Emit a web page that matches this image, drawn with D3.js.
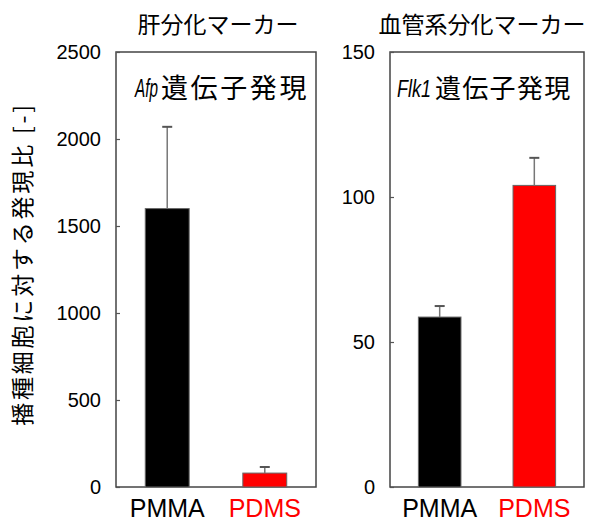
<!DOCTYPE html>
<html>
<head>
<meta charset="utf-8">
<script src="https://cdn.jsdelivr.net/npm/d3@7"></script>
<style>
  body { margin: 0; background: #fff; }
  text { font-family: "Liberation Sans", Arial, "Noto Sans CJK JP", sans-serif; }
  .jp { font-family: "Noto Sans CJK JP", sans-serif; }
</style>
</head>
<body>
<div id="chart"></div>
<script>
// --- data ---
const categories = ["PMMA", "PDMS"];
const barColors = ["#000000", "#ff0000"];

const liverMeans = [1600, 80];
const liverErrors = [470, 35];
const liverTicks = [0, 500, 1000, 1500, 2000, 2500];

const vascMeans = [58.6, 104];
const vascErrors = [3.8, 9.5];
const vascTicks = [0, 50, 100, 150];

const panels = [
  { title: "肝分化マーカー", gene: "Afp", means: liverMeans, errors: liverErrors, ticks: liverTicks, max: 2500,
    x0: 116, x1: 316, titleX: 218,
    geneX: 135, geneW: 23, geneSize: 26, jpX: 161, jpSize: 27, jpSpacing: 2.6 },
  { title: "血管系分化マーカー", gene: "Flk1", means: vascMeans, errors: vascErrors, ticks: vascTicks, max: 150,
    x0: 390, x1: 584, titleX: 482,
    geneX: 397, geneW: 34, geneSize: 24, jpX: 435, jpSize: 26, jpSpacing: 1.3 }
];

const width = 598, height = 522;
const plotTop = 52, plotBottom = 487;

const svg = d3.select("#chart").append("svg")
  .attr("width", width)
  .attr("height", height);

// y axis title
svg.append("text")
  .attr("class", "jp")
  .attr("transform", "translate(31,264) rotate(-90)")
  .attr("text-anchor", "middle")
  .attr("font-size", 23)
  .attr("letter-spacing", 2.8)
  .attr("fill", "#000")
  .text("播種細胞に対する発現比 [-]");

panels.forEach((p) => {
  const g = svg.append("g");

  const y = d3.scaleLinear().domain([0, p.max]).range([plotBottom, plotTop]);
  const x = d3.scaleBand().domain(categories)
    .range([p.x0, p.x1]).paddingInner(0.55).paddingOuter(0.3);

  // frame
  g.append("rect")
    .attr("x", p.x0).attr("y", plotTop)
    .attr("width", p.x1 - p.x0).attr("height", plotBottom - plotTop)
    .attr("fill", "none").attr("stroke", "#444").attr("stroke-width", 1.5);

  // axis with inward ticks
  const axis = g.append("g")
    .attr("transform", `translate(${p.x0},0)`)
    .call(d3.axisLeft(y).tickValues(p.ticks).tickFormat(d3.format("d"))
      .tickSizeInner(-4).tickSizeOuter(0).tickPadding(15));
  axis.select(".domain").remove();
  axis.selectAll(".tick line").attr("stroke", "#555").attr("stroke-width", 1.2);
  axis.selectAll(".tick text")
    .attr("font-size", 20)
    .attr("fill", "#000")
    .attr("font-family", "Liberation Sans, Arial, sans-serif");

  // bars
  g.selectAll("rect.bar")
    .data(p.means)
    .join("rect")
    .attr("class", "bar")
    .attr("x", (d, i) => x(categories[i]))
    .attr("y", (d) => y(d))
    .attr("width", x.bandwidth())
    .attr("height", (d) => y(0) - y(d))
    .attr("fill", (d, i) => barColors[i])
    .attr("stroke", "#666")
    .attr("stroke-width", 1);

  // error bars
  const eb = g.selectAll("g.err")
    .data(p.means)
    .join("g")
    .attr("class", "err");
  eb.append("line")
    .attr("x1", (d, i) => x(categories[i]) + x.bandwidth() / 2)
    .attr("x2", (d, i) => x(categories[i]) + x.bandwidth() / 2)
    .attr("y1", (d) => y(d))
    .attr("y2", (d, i) => y(d + p.errors[i]))
    .attr("stroke", "#777").attr("stroke-width", 1.5);
  eb.append("line")
    .attr("x1", (d, i) => x(categories[i]) + x.bandwidth() / 2 - 5)
    .attr("x2", (d, i) => x(categories[i]) + x.bandwidth() / 2 + 5)
    .attr("y1", (d, i) => y(d + p.errors[i]))
    .attr("y2", (d, i) => y(d + p.errors[i]))
    .attr("stroke", "#555").attr("stroke-width", 2);

  // category labels
  g.selectAll("text.cat")
    .data(categories)
    .join("text")
    .attr("class", "cat")
    .attr("x", (d) => x(d) + x.bandwidth() / 2)
    .attr("y", 517)
    .attr("text-anchor", "middle")
    .attr("font-size", 25)
    .attr("fill", (d, i) => barColors[i])
    .text((d) => d);

  // panel title
  g.append("text")
    .attr("class", "jp")
    .attr("x", p.titleX)
    .attr("y", 33)
    .attr("text-anchor", "middle")
    .attr("font-size", 23)
    .text(p.title);

  // gene label inside frame: italic gene name squeezed horizontally + Japanese
  const gene = g.append("text")
    .attr("font-size", p.geneSize)
    .attr("font-style", "italic")
    .text(p.gene);
  const natural = gene.node().getComputedTextLength();
  gene.attr("transform", `translate(${p.geneX},97) scale(${p.geneW / natural},1)`);

  g.append("text")
    .attr("class", "jp")
    .attr("x", p.jpX)
    .attr("y", 98)
    .attr("font-size", p.jpSize)
    .attr("letter-spacing", p.jpSpacing)
    .text("遺伝子発現");
});
</script>
</body>
</html>
